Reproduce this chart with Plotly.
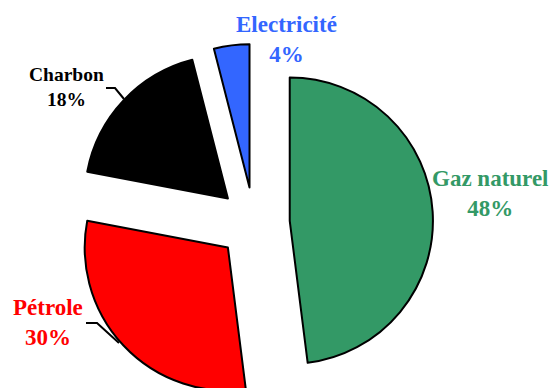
import plotly.graph_objects as go

# Energy mix shares (%)
labels = ["Gaz naturel", "Pétrole", "Charbon", "Electricité"]
values = [48, 30, 18, 4]
colors = ["#339966", "#FF0000", "#000000", "#3366FF"]
text_colors = ["#339966", "#FF0000", "#000000", "#3366FF"]
label_sizes = [23, 23, 19.5, 23]

# Label anchor points in page pixels (centre of the two-line block)
label_px = [(490, 194), (48, 322), (66, 87), (286, 39)]

W, H = 551, 402
M_L, M_R, M_T, M_B = 75, 118, 44, 0
PW, PH = W - M_L - M_R, H - M_T - M_B


def to_paper(px, py):
    return (px - M_L) / PW, 1 - (py - M_T) / PH


fig = go.Figure(
    go.Pie(
        labels=labels,
        values=values,
        sort=False,
        direction="clockwise",
        rotation=0,
        pull=[0.25] * len(values),
        marker=dict(colors=colors, line=dict(color="#000000", width=2)),
        textinfo="none",
        hoverinfo="label+percent",
        showlegend=False,
    )
)

total = sum(values)
for lab, val, col, size, (px, py) in zip(labels, values, text_colors, label_sizes, label_px):
    x, y = to_paper(px, py)
    fig.add_annotation(
        x=x, y=y, xref="paper", yref="paper",
        text=f"{lab}<br>{round(100 * val / total)}%",
        showarrow=False,
        xanchor="center", yanchor="middle",
        font=dict(family="Liberation Serif", size=size, color=col, weight="bold"),
    )

# Leader lines for the two labels on the left
leaders = [
    [(106, 88), (115, 88), (124, 99)],   # Charbon
    [(86, 323), (97, 323), (119, 343)],  # Pétrole
]
for pts in leaders:
    path = ""
    for i, (px, py) in enumerate(pts):
        x, y = to_paper(px, py)
        path += ("M" if i == 0 else "L") + f"{x},{y} "
    fig.add_shape(type="path", path=path.strip(), xref="paper", yref="paper",
                  line=dict(color="#000000", width=2))

fig.update_layout(
    width=W,
    height=H,
    margin=dict(l=M_L, r=M_R, t=M_T, b=M_B),
    paper_bgcolor="#FFFFFF",
    plot_bgcolor="#FFFFFF",
)

fig.write_html("out.html")
